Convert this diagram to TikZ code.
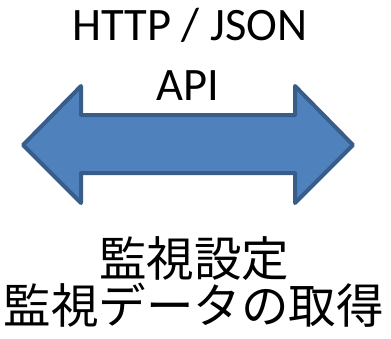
\documentclass[tikz,border=0pt]{standalone}
\usepackage{fontspec}
\setmainfont{Carlito}
\newfontfamily\jpfont{Noto Sans CJK JP}
\usepackage{tikz}
\usetikzlibrary{positioning}
\definecolor{arrowfill}{HTML}{4F81BD}
\definecolor{arrowline}{HTML}{385D8A}
\tikzstyle{label} = [inner sep = 0pt, anchor = base, font = \fontsize{46.5}{48}\selectfont]
\tikzstyle{jplabel} = [inner sep = 0pt, anchor = base, font = \jpfont\fontsize{47.5}{48}\selectfont]
\tikzstyle{blockarrow} = [draw = arrowline, fill = arrowfill, line width = 4pt, line join = round]

\begin{document}
\begin{tikzpicture}[x = 1pt, y = -1pt]
		
			\useasboundingbox (0,0) rectangle (391,338);
			
			% protocol
			\node[label] (http) at (190,40) {HTTP / JSON};
			\node[label] (api) at (188,100) {API};
			
			% double arrow
			\draw[blockarrow] (23,145) -- (81,86) -- (81,115) -- (295,115) -- (295,86) -- (353,145)
			-- (295,203) -- (295,173) -- (81,173) -- (81,203) -- cycle;
			
			% functions
			\node[jplabel] (setting) at (194,276) {監視設定};
			\node[jplabel] (fetch) at (194,323) {監視データの取得};
		
		\end{tikzpicture}
\end{document}
